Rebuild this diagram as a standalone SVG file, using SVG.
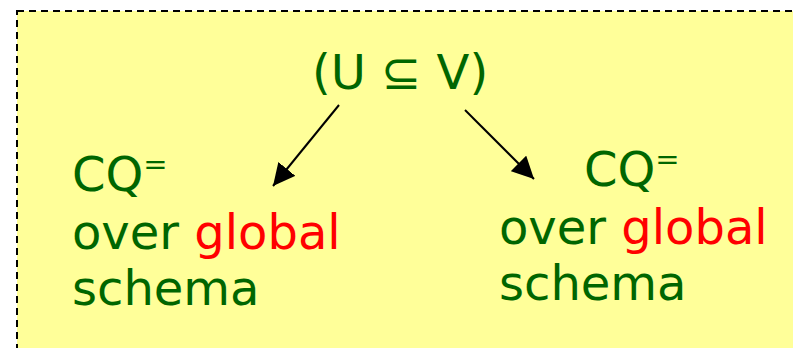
<svg xmlns="http://www.w3.org/2000/svg" width="793" height="348" viewBox="0 0 793 348">
<defs>
<style>
.t{font-family:"DejaVu Sans",Verdana,sans-serif;font-size:48px;fill:#006600}
.r{fill:#ff0000}
.sup{font-size:29px}
.c{stroke:#000;stroke-width:2;fill:none}
</style>
<marker id="ah" markerUnits="userSpaceOnUse" markerWidth="22" markerHeight="22" viewBox="0 0 20 20" refX="20" refY="10" orient="auto">
<path d="M0,0 L20,10 L0,20 Z" fill="#000"/>
</marker>
</defs>
<rect x="17" y="11" width="800" height="360" fill="#ffff99" stroke="#000" stroke-width="2" stroke-dasharray="7 5"/>
<g id="top">
<text class="t" x="312" y="89">(U ⊆ V)</text>
</g>
<g id="left">
<text class="t" x="72" y="191">CQ<tspan class="sup" dy="-17">=</tspan></text>
<text class="t" x="72" y="249">over <tspan class="r">global</tspan></text>
<text class="t" x="72" y="305">schema</text>
</g>
<g id="right">
<text class="t" x="584" y="186">CQ<tspan class="sup" dy="-17">=</tspan></text>
<text class="t" x="499" y="244">over <tspan class="r">global</tspan></text>
<text class="t" x="499" y="300">schema</text>
</g>
<g id="connectors">
<line class="c" x1="339" y1="105" x2="273" y2="186" marker-end="url(#ah)"/>
<line class="c" x1="465" y1="110" x2="534" y2="179" marker-end="url(#ah)"/>
</g>
</svg>
